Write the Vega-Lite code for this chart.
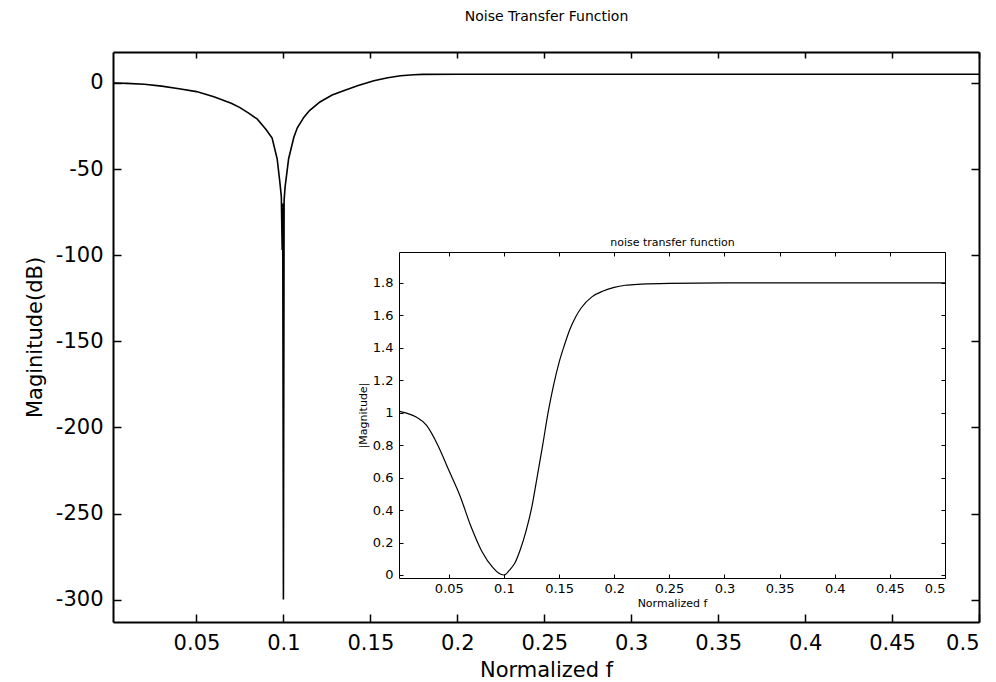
{
  "$schema": "https://vega.github.io/schema/vega-lite/v6.json",
  "width": 866,
  "height": 570,
  "autosize": {"type": "none"},
  "padding": {"left": 113, "top": 52, "right": 17, "bottom": 60},
  "background": "white",
  "config": {
    "view": {"stroke": null},
    "font": "DejaVu Sans",
    "axis": {"grid": false, "domainColor": "black", "tickColor": "black", "labelColor": "black", "titleColor": "black", "titleFontWeight": "normal", "labelFont": "DejaVu Sans", "titleFont": "DejaVu Sans"}
  },
  "datasets": {
    "main": [
      {"f": 0.002, "db": 0}, {"f": 0.01, "db": -0.2}, {"f": 0.02, "db": -0.7}, {"f": 0.03, "db": -1.8},
      {"f": 0.04, "db": -3.3}, {"f": 0.05, "db": -5.0}, {"f": 0.06, "db": -8.0}, {"f": 0.07, "db": -11.8},
      {"f": 0.075, "db": -14.3}, {"f": 0.08, "db": -17.5}, {"f": 0.085, "db": -21}, {"f": 0.09, "db": -27},
      {"f": 0.0935, "db": -32}, {"f": 0.0964, "db": -44}, {"f": 0.098, "db": -58}, {"f": 0.0988, "db": -66},
      {"f": 0.0993, "db": -97}, {"f": 0.0996, "db": -70}, {"f": 0.1, "db": -300}, {"f": 0.1004, "db": -68},
      {"f": 0.101, "db": -60}, {"f": 0.102, "db": -52}, {"f": 0.103, "db": -44}, {"f": 0.106, "db": -31.5},
      {"f": 0.108, "db": -26}, {"f": 0.1117, "db": -20}, {"f": 0.115, "db": -16}, {"f": 0.121, "db": -11},
      {"f": 0.128, "db": -7}, {"f": 0.135, "db": -4.3}, {"f": 0.143, "db": -1.5}, {"f": 0.152, "db": 1.3},
      {"f": 0.16, "db": 3}, {"f": 0.1674, "db": 4.2}, {"f": 0.175, "db": 4.8}, {"f": 0.18, "db": 5.0},
      {"f": 0.2, "db": 5.1}, {"f": 0.3, "db": 5.1}, {"f": 0.5, "db": 5.1}
    ],
    "inset": [
      {"f": 0.0048, "m": 1.01}, {"f": 0.01, "m": 1.0}, {"f": 0.02, "m": 0.975}, {"f": 0.03, "m": 0.92},
      {"f": 0.04, "m": 0.8}, {"f": 0.05, "m": 0.645}, {"f": 0.06, "m": 0.49}, {"f": 0.07, "m": 0.3},
      {"f": 0.08, "m": 0.145}, {"f": 0.09, "m": 0.045}, {"f": 0.095, "m": 0.012}, {"f": 0.1, "m": 0.0},
      {"f": 0.105, "m": 0.03}, {"f": 0.11, "m": 0.075}, {"f": 0.115, "m": 0.16}, {"f": 0.12, "m": 0.27},
      {"f": 0.125, "m": 0.41}, {"f": 0.13, "m": 0.6}, {"f": 0.135, "m": 0.795}, {"f": 0.14, "m": 1.0},
      {"f": 0.145, "m": 1.17}, {"f": 0.15, "m": 1.31}, {"f": 0.155, "m": 1.42}, {"f": 0.16, "m": 1.517},
      {"f": 0.165, "m": 1.59}, {"f": 0.17, "m": 1.645}, {"f": 0.18, "m": 1.715}, {"f": 0.19, "m": 1.75},
      {"f": 0.2, "m": 1.772}, {"f": 0.21, "m": 1.785}, {"f": 0.225, "m": 1.792}, {"f": 0.25, "m": 1.797},
      {"f": 0.3, "m": 1.8}, {"f": 0.5, "m": 1.8}
    ]
  },
  "layer": [
    {
      "data": {"name": "main"},
      "mark": {"type": "line", "color": "black", "strokeWidth": 1.6, "clip": true},
      "encoding": {
        "x": {"field": "f", "type": "quantitative",
          "scale": {"domain": [0.002, 0.5], "zero": false, "nice": false},
          "axis": {"orient": "bottom", "values": [0.05, 0.1, 0.15, 0.2, 0.25, 0.3, 0.35, 0.4, 0.45, 0.5], "format": "~g",
            "labelFontSize": 21, "ticks": false, "labelPadding": 10, "domainWidth": 2,
            "title": "Normalized f", "titleFontSize": 21, "titlePadding": 6}},
        "y": {"field": "db", "type": "quantitative",
          "scale": {"domain": [-313, 18], "zero": false, "nice": false},
          "axis": {"orient": "left", "values": [-300, -250, -200, -150, -100, -50, 0],
            "labelExpr": "replace(format(datum.value, 'd'), '−', '-')",
            "labelFontSize": 21, "ticks": false, "labelPadding": 10, "domainWidth": 2,
            "title": "Maginitude(dB)", "titleFontSize": 21, "titlePadding": 10}}
      }
    },
    {
      "data": {"name": "main"},
      "mark": {"type": "line", "opacity": 0},
      "encoding": {
        "x": {"field": "f", "type": "quantitative",
          "scale": {"domain": [0.002, 0.5], "zero": false, "nice": false},
          "axis": {"orient": "top", "values": [0.05, 0.1, 0.15, 0.2, 0.25, 0.3, 0.35, 0.4, 0.45, 0.5],
            "labels": false, "ticks": false, "domainWidth": 2,
            "title": "Noise Transfer Function", "titleFontSize": 14, "titlePadding": 29}},
        "y": {"field": "db", "type": "quantitative",
          "scale": {"domain": [-313, 18], "zero": false, "nice": false},
          "axis": {"orient": "right", "values": [-300, -250, -200, -150, -100, -50, 0],
            "labels": false, "ticks": false, "domainWidth": 2, "title": null}}
      }
    },
    {
      "data": {"name": "main"},
      "mark": {"type": "line", "opacity": 0},
      "encoding": {
        "x": {"field": "f", "type": "quantitative",
          "scale": {"domain": [0.002, 0.5], "zero": false, "nice": false},
          "axis": {"orient": "top", "offset": -570, "values": [0.05, 0.1, 0.15, 0.2, 0.25, 0.3, 0.35, 0.4, 0.45, 0.5],
            "labels": false, "domain": false, "tickSize": 8, "tickWidth": 1.5, "title": null}},
        "y": {"field": "db", "type": "quantitative",
          "scale": {"domain": [-313, 18], "zero": false, "nice": false},
          "axis": {"orient": "right", "offset": -866, "values": [-300, -250, -200, -150, -100, -50, 0],
            "labels": false, "domain": false, "tickSize": 8, "tickWidth": 1.5, "title": null}}
      }
    },
    {
      "data": {"name": "main"},
      "mark": {"type": "line", "opacity": 0},
      "encoding": {
        "x": {"field": "f", "type": "quantitative",
          "scale": {"domain": [0.002, 0.5], "zero": false, "nice": false},
          "axis": {"orient": "bottom", "offset": -570, "values": [0.05, 0.1, 0.15, 0.2, 0.25, 0.3, 0.35, 0.4, 0.45, 0.5],
            "labels": false, "domain": false, "tickSize": 6, "tickWidth": 1.5, "title": null}},
        "y": {"field": "db", "type": "quantitative",
          "scale": {"domain": [-313, 18], "zero": false, "nice": false},
          "axis": {"orient": "left", "offset": -866, "values": [-300, -250, -200, -150, -100, -50, 0],
            "labels": false, "domain": false, "tickSize": 8, "tickWidth": 1.5, "title": null}}
      }
    },
    {
      "data": {"name": "inset"},
      "mark": {"type": "line", "color": "black", "strokeWidth": 1.2, "interpolate": "monotone"},
      "encoding": {
        "x": {"field": "f", "type": "quantitative",
          "scale": {"domain": [0.0048, 0.5], "range": [286, 832], "zero": false, "nice": false},
          "axis": {"orient": "bottom", "offset": -44, "values": [0.05, 0.1, 0.15, 0.2, 0.25, 0.3, 0.35, 0.4, 0.45, 0.5], "format": "~g",
            "labelFontSize": 13, "ticks": false, "labelPadding": 4, "domainWidth": 1,
            "title": "Normalized f", "titleFontSize": 11, "titlePadding": 2}},
        "y": {"field": "m", "type": "quantitative",
          "scale": {"domain": [-0.0185, 1.99], "range": [526, 200], "zero": false, "nice": false},
          "axis": {"orient": "left", "offset": -286, "values": [0, 0.2, 0.4, 0.6, 0.8, 1, 1.2, 1.4, 1.6, 1.8], "format": "~g",
            "labelFontSize": 13, "ticks": false, "labelPadding": 6, "domainWidth": 1,
            "title": "|Magnitude|", "titleFontSize": 11, "titlePadding": 4}}
      }
    },
    {
      "data": {"name": "inset"},
      "mark": {"type": "line", "opacity": 0},
      "encoding": {
        "x": {"field": "f", "type": "quantitative",
          "scale": {"domain": [0.0048, 0.5], "range": [286, 832], "zero": false, "nice": false},
          "axis": {"orient": "top", "offset": -200, "values": [0.05, 0.1, 0.15, 0.2, 0.25, 0.3, 0.35, 0.4, 0.45, 0.5],
            "labels": false, "ticks": false, "domainWidth": 1,
            "title": "noise transfer function", "titleFontSize": 11, "titlePadding": 5}},
        "y": {"field": "m", "type": "quantitative",
          "scale": {"domain": [-0.0185, 1.99], "range": [526, 200], "zero": false, "nice": false},
          "axis": {"orient": "right", "offset": -34, "values": [0, 0.2, 0.4, 0.6, 0.8, 1, 1.2, 1.4, 1.6, 1.8],
            "labels": false, "ticks": false, "domainWidth": 1, "title": null}}
      }
    },
    {
      "data": {"name": "inset"},
      "mark": {"type": "line", "opacity": 0},
      "encoding": {
        "x": {"field": "f", "type": "quantitative",
          "scale": {"domain": [0.0048, 0.5], "range": [286, 832], "zero": false, "nice": false},
          "axis": {"orient": "top", "offset": -526, "values": [0.05, 0.1, 0.15, 0.2, 0.25, 0.3, 0.35, 0.4, 0.45, 0.5],
            "labels": false, "domain": false, "tickSize": 4, "tickWidth": 1, "title": null}},
        "y": {"field": "m", "type": "quantitative",
          "scale": {"domain": [-0.0185, 1.99], "range": [526, 200], "zero": false, "nice": false},
          "axis": {"orient": "right", "offset": -580, "values": [0, 0.2, 0.4, 0.6, 0.8, 1, 1.2, 1.4, 1.6, 1.8],
            "labels": false, "domain": false, "tickSize": 4, "tickWidth": 1, "title": null}}
      }
    },
    {
      "data": {"name": "inset"},
      "mark": {"type": "line", "opacity": 0},
      "encoding": {
        "x": {"field": "f", "type": "quantitative",
          "scale": {"domain": [0.0048, 0.5], "range": [286, 832], "zero": false, "nice": false},
          "axis": {"orient": "bottom", "offset": -370, "values": [0.05, 0.1, 0.15, 0.2, 0.25, 0.3, 0.35, 0.4, 0.45, 0.5],
            "labels": false, "domain": false, "tickSize": 4, "tickWidth": 1, "title": null}},
        "y": {"field": "m", "type": "quantitative",
          "scale": {"domain": [-0.0185, 1.99], "range": [526, 200], "zero": false, "nice": false},
          "axis": {"orient": "left", "offset": -832, "values": [0, 0.2, 0.4, 0.6, 0.8, 1, 1.2, 1.4, 1.6, 1.8],
            "labels": false, "domain": false, "tickSize": 4, "tickWidth": 1, "title": null}}
      }
    }
  ],
  "resolve": {"scale": {"x": "independent", "y": "independent"}, "axis": {"x": "independent", "y": "independent"}}
}
